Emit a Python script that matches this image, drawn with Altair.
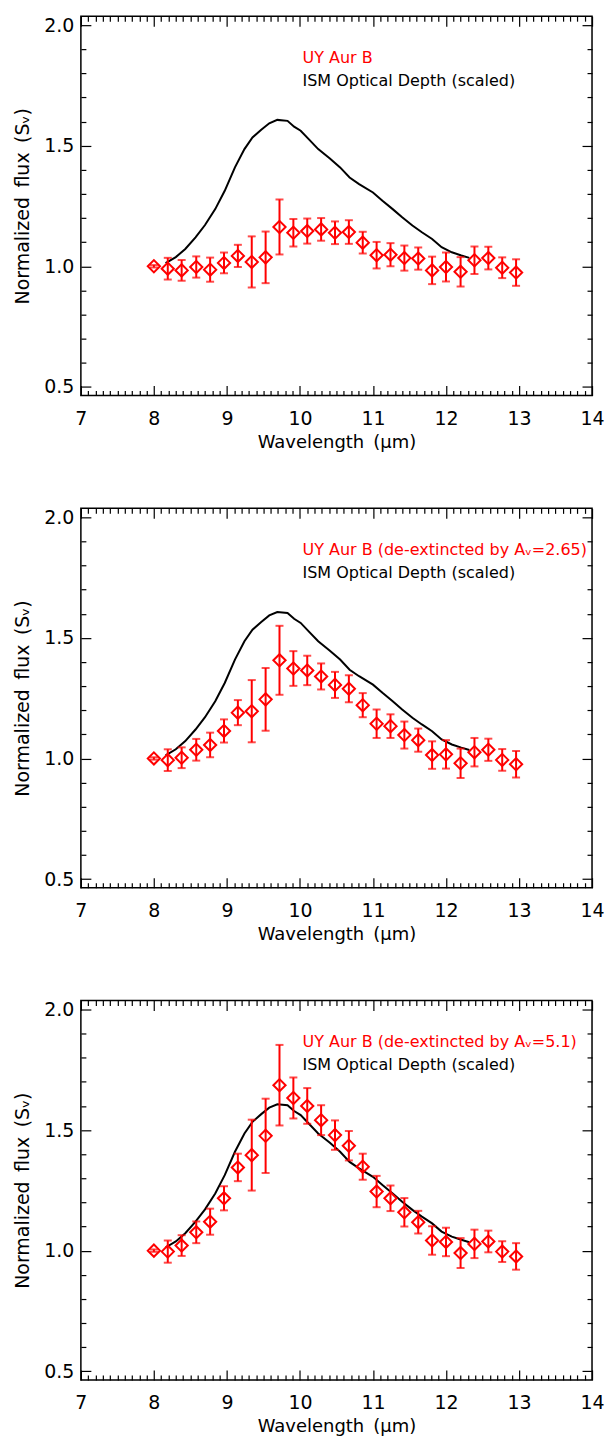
import altair as alt
import pandas as pd

# ---------------- data ----------------
wavelength = [8.00, 8.19, 8.38, 8.58, 8.77, 8.96, 9.15, 9.34, 9.53, 9.72, 9.91,
              10.10, 10.29, 10.48, 10.67, 10.86, 11.05, 11.24, 11.43, 11.62,
              11.81, 12.00, 12.20, 12.39, 12.58, 12.77, 12.96]

flux_raw = [1.000, 0.990, 0.983, 0.997, 0.986, 1.014, 1.043, 1.018, 1.037, 1.163, 1.139,
            1.146, 1.153, 1.139, 1.142, 1.098, 1.046, 1.048, 1.034, 1.032,
            0.983, 0.997, 0.977, 1.025, 1.034, 0.994, 0.974]
err_raw = [0.005, 0.045, 0.043, 0.044, 0.050, 0.043, 0.046, 0.106, 0.107, 0.114, 0.057,
           0.052, 0.047, 0.047, 0.049, 0.045, 0.055, 0.048, 0.052, 0.046,
           0.057, 0.060, 0.061, 0.057, 0.047, 0.043, 0.055]

flux_av265 = [1.000, 0.993, 1.003, 1.036, 1.056, 1.114, 1.190, 1.196, 1.245, 1.407, 1.373,
              1.365, 1.340, 1.305, 1.289, 1.221, 1.144, 1.134, 1.097, 1.076,
              1.014, 1.017, 0.980, 1.026, 1.036, 0.994, 0.976]
err_av265 = [0.005, 0.045, 0.043, 0.045, 0.051, 0.048, 0.052, 0.129, 0.130, 0.143, 0.072,
             0.061, 0.054, 0.054, 0.056, 0.050, 0.059, 0.049, 0.056, 0.048,
             0.057, 0.059, 0.061, 0.059, 0.046, 0.045, 0.055]

flux_av51 = [1.000, 0.996, 1.021, 1.076, 1.120, 1.217, 1.345, 1.396, 1.476, 1.686, 1.633,
             1.600, 1.541, 1.479, 1.435, 1.348, 1.245, 1.217, 1.159, 1.118,
             1.042, 1.036, 0.990, 1.028, 1.038, 0.996, 0.976]
err_av51 = [0.005, 0.046, 0.043, 0.045, 0.054, 0.050, 0.057, 0.147, 0.154, 0.167, 0.085,
            0.074, 0.062, 0.061, 0.061, 0.054, 0.065, 0.053, 0.059, 0.047,
            0.059, 0.059, 0.062, 0.059, 0.045, 0.043, 0.055]

ism_wl = [8.16, 8.30, 8.43, 8.57, 8.70, 8.84, 8.97, 9.11, 9.24, 9.35, 9.47, 9.58, 9.69,
          9.83, 9.92, 10.01, 10.12, 10.25, 10.41, 10.55, 10.68, 10.81, 11.00, 11.13,
          11.27, 11.40, 11.54, 11.67, 11.81, 11.94, 12.08, 12.21, 12.32]
ism_val = [1.013, 1.038, 1.072, 1.120, 1.171, 1.237, 1.313, 1.410, 1.486, 1.534, 1.566,
           1.593, 1.607, 1.603, 1.579, 1.562, 1.527, 1.486, 1.447, 1.410, 1.368, 1.341,
           1.306, 1.272, 1.237, 1.203, 1.169, 1.141, 1.113, 1.079, 1.058, 1.045, 1.035]

panel_labels = ["UY Aur B",
                "UY Aur B (de-extincted by A\u1d65=2.65)",
                "UY Aur B (de-extincted by A\u1d65=5.1)"]
ism_label = "ISM Optical Depth (scaled)"
x_title = "Wavelength\u2002(\u03bcm)"
y_title = "Normalized\u2002flux\u2002(S\u1d65)"

x_major = [7, 8, 9, 10, 11, 12, 13, 14]
x_minor = [round(7 + 0.1 * i, 1) for i in range(71) if i % 10]
y_major = [0.5, 1.0, 1.5, 2.0]
y_minor = [round(0.5 + 0.1 * i, 1) for i in range(16) if i % 5]

# ---------------- styling ----------------
FONT = "DejaVu Sans"
RED = "#ff0000"
W, H = 512, 380
XS = alt.Scale(domain=[7, 14], nice=False, zero=False)
YS = alt.Scale(domain=[0.464, 2.037], nice=False, zero=False)


def tick_axis(orient, values, size):
    return alt.Axis(orient=orient, values=values, tickSize=size, offset=-size,
                    labels=False, title=None, domain=False, grid=False,
                    ticks=True, tickColor="black", tickWidth=1.2,
                    minExtent=0, maxExtent=0)


x_main = alt.Axis(orient="bottom", values=x_major, tickSize=10, offset=-10,
                  domain=False, grid=False, tickColor="black", tickWidth=1.2,
                  labelFont=FONT, labelFontSize=19, labelColor="black",
                  labelPadding=14, labelFlush=False, format="d",
                  title=x_title, titleFont=FONT, titleFontSize=18,
                  titleFontWeight="normal", titleColor="black", titlePadding=5)

y_main = alt.Axis(orient="left", values=y_major, tickSize=10, offset=-10,
                  domain=False, grid=False, tickColor="black", tickWidth=1.2,
                  labelFont=FONT, labelFontSize=19, labelColor="black",
                  labelPadding=7, labelFlush=False, format=".1f",
                  title=y_title, titleFont=FONT, titleFontSize=19,
                  titleFontWeight="normal", titleColor="black", titlePadding=11)


def panel(flux, err, label):
    df = pd.DataFrame({
        "wl": wavelength,
        "flux": flux,
        "lo": [f - e for f, e in zip(flux, err)],
        "hi": [f + e for f, e in zip(flux, err)],
    })
    ism = pd.DataFrame({"wl": ism_wl, "val": ism_val})

    line = alt.Chart(ism).mark_line(color="black", strokeWidth=2).encode(
        x=alt.X("wl:Q", scale=XS, axis=x_main),
        y=alt.Y("val:Q", scale=YS, axis=y_main),
    )
    bars = alt.Chart(df).mark_rule(color=RED, strokeWidth=2).encode(
        x=alt.X("wl:Q", scale=XS, axis=tick_axis("bottom", x_minor, 5)),
        y=alt.Y("lo:Q", scale=YS, axis=tick_axis("left", y_minor, 5)),
        y2="hi:Q",
    )
    cap_lo = alt.Chart(df).mark_tick(color=RED, orient="horizontal", size=8,
                                     thickness=2).encode(
        x=alt.X("wl:Q", scale=XS, axis=tick_axis("top", x_major, 10)),
        y=alt.Y("lo:Q", scale=YS, axis=tick_axis("right", y_major, 10)),
    )
    cap_hi = alt.Chart(df).mark_tick(color=RED, orient="horizontal", size=8,
                                     thickness=2).encode(
        x=alt.X("wl:Q", scale=XS, axis=tick_axis("top", x_minor, 5)),
        y=alt.Y("hi:Q", scale=YS, axis=tick_axis("right", y_minor, 5)),
    )
    pts = alt.Chart(df).mark_point(shape="diamond", filled=False, color=RED,
                                   size=150, strokeWidth=2, opacity=1).encode(
        x=alt.X("wl:Q", scale=XS, axis=None),
        y=alt.Y("flux:Q", scale=YS, axis=None),
    )
    t1 = alt.Chart(pd.DataFrame({"t": [label]})).mark_text(
        align="left", baseline="middle", font=FONT, fontSize=16, color=RED
    ).encode(x=alt.value(222), y=alt.value(42), text="t:N")
    t2 = alt.Chart(pd.DataFrame({"t": [ism_label]})).mark_text(
        align="left", baseline="middle", font=FONT, fontSize=16, color="black"
    ).encode(x=alt.value(222), y=alt.value(65), text="t:N")

    return alt.layer(line, bars, cap_lo, cap_hi, pts, t1, t2).resolve_axis(
        x="independent", y="independent"
    ).properties(width=W, height=H)


chart = alt.vconcat(
    panel(flux_raw, err_raw, panel_labels[0]),
    panel(flux_av265, err_av265, panel_labels[1]),
    panel(flux_av51, err_av51, panel_labels[2]),
    spacing=113, bounds="flush",
).properties(
    padding={"left": 5, "top": 5, "right": 0, "bottom": 0}
).configure_view(stroke="black", strokeWidth=1.5)

chart.save("out.html", embed_options={"renderer": "svg", "actions": False})
